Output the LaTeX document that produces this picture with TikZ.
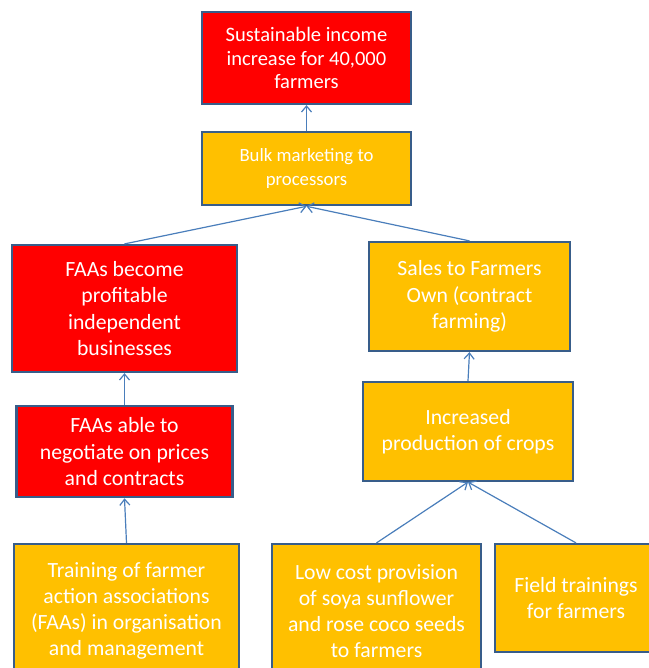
\documentclass[tikz,border=0pt]{standalone}
\usepackage{fontspec}
\setmainfont{Carlito}
\usetikzlibrary{positioning, arrows.meta}
\definecolor{boxred}{HTML}{FF0000}
\definecolor{boxamber}{HTML}{FFC000}
\definecolor{boxline}{HTML}{385D8A}
\definecolor{arrline}{HTML}{4A7EBB}

\begin{document}
\begin{tikzpicture}[
  x=1bp, y=1bp,
  >={Straight Barb[length=6bp, width=10bp]},
  every node/.style={font=\fontsize{21.8}{26.3}\selectfont, text=white},
  box/.style    = {draw=boxline, line width=2.2bp, align=center, inner sep=0pt},
  outcome/.style = {box, fill=boxred},
  activity/.style = {box, fill=boxamber},
  arr/.style    = {->, line width=1.2bp, arrline},
]
  \useasboundingbox (0,0) rectangle (649,-668);
  \clip (0,0) rectangle (649,-668);
  \node[outcome, minimum width=209bp, minimum height=92bp, font=\fontsize{20.6}{24}\selectfont]
       at (306.5,-58) (goal) {Sustainable income\\increase for 40,000\\farmers};
  \node[activity, minimum width=209bp, minimum height=73bp, font=\fontsize{18.8}{24}\selectfont,
        below=26bp of goal] (bulk) {Bulk marketing to\\processors};
  \node[outcome, minimum width=225bp, minimum height=127bp]
       at (124.5,-308.5) (profit) {FAAs become\\profitable\\independent\\businesses};
  \node[outcome, minimum width=216bp, minimum height=91bp, below=32bp of profit]
       (negot) {FAAs able to\\negotiate on prices\\and contracts};
  \node[activity, minimum width=225bp, minimum height=134bp]
       at (126.5,-611) (train) {Training of farmer\\action associations\\(FAAs) in organisation\\and management};
  \node[activity, minimum width=201bp, minimum height=109bp]
       at (469.5,-296.5) (sales) {Sales to Farmers\\Own (contract\\farming)};
  \node[activity, minimum width=210bp, minimum height=99bp]
       at (468,-431.5) (incr) {Increased\\production of crops};
  \node[activity, minimum width=209bp, minimum height=134bp]
       at (376.5,-611) (seeds) {Low cost provision\\of soya sunflower\\and rose coco seeds\\to farmers};
  \node[activity, minimum width=162bp, minimum height=108bp]
       at (576,-598) (field) {Field trainings\\for farmers};
  \foreach \a/\b in {bulk/goal, profit/bulk, sales/bulk, negot/profit, train/negot,
                     incr/sales, seeds/incr, field/incr}
     \draw[arr] (\a.north) -- (\b.south);
\end{tikzpicture}
\end{document}
